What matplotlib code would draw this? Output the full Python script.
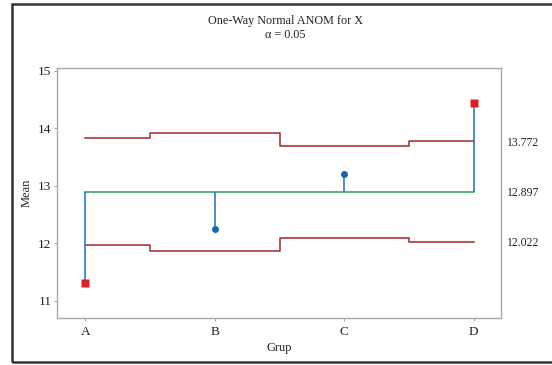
import matplotlib
matplotlib.use("Agg")
import matplotlib.pyplot as plt
from matplotlib.patches import Rectangle

plt.rcParams['font.family'] = ['Liberation Serif', 'DejaVu Serif']

groups = ['A', 'B', 'C', 'D']
means = [11.31, 12.25, 13.21, 14.44]
center = 12.897
upper = [13.83, 13.92, 13.70, 13.772]
lower = [11.964, 11.874, 12.094, 12.022]
limit_labels = ['13.772', '12.897', '12.022']
limit_values = [13.772, 12.897, 12.022]

fig = plt.figure(figsize=(5.52, 3.65), dpi=100)
ax = fig.add_axes([57/552, (365-318)/365, (501-57)/552, (318-68)/365])

x = list(range(1, len(groups) + 1))
lim_color = '#a8383c'
ax.step(x, upper, where='mid', color=lim_color, lw=1.2, zorder=2)
ax.step(x, lower, where='mid', color=lim_color, lw=1.2, zorder=2)
ax.plot([x[0], x[-1]], [center, center], color='#3aa862', lw=1.2, zorder=2)
ax.vlines(x, center, means, color='#2f7cc4', lw=1.2, zorder=3)
for xi, m, u, l in zip(x, means, upper, lower):
    if m > u or m < l:
        ax.plot(xi, m, marker='s', color='#dc1f26', ms=5.5, zorder=4, mec='none')
    else:
        ax.plot(xi, m, marker='o', color='#1a62ad', ms=5, zorder=4, mec='none')

ax.set_xlim(0.78, 4.21)
ax.set_ylim(10.70, 15.05)
ax.set_yticks([11, 12, 13, 14, 15])
ax.set_xticks(x)
ax.set_xticklabels(groups)
for s in ax.spines.values():
    s.set_color('#a8a8a8')
    s.set_linewidth(1.0)
ax.tick_params(axis='both', colors='#a8a8a8', labelcolor='#222222', labelsize=9.5, length=2.5, width=0.8)
ax.tick_params(axis='y', pad=1.5)
ax.tick_params(axis='x', pad=3)
ax.set_xlabel('Grup', fontsize=9, color='#222222')
ax.set_ylabel('Mean', fontsize=9, color='#222222')
ax.xaxis.set_label_coords(0.5, -(342 - 318) / 250)
ax.yaxis.set_label_coords((33 - 57) / 444, 0.5)

for lab, v in zip(limit_labels, limit_values):
    ax.annotate(lab, xy=(1, v), xycoords=('axes fraction', 'data'), xytext=(4, -1),
                textcoords='offset points', ha='left', va='center', fontsize=8.5, color='#222222')

fig.text(285/552, 1 - 21/365, 'One-Way Normal ANOM for X', ha='center', va='center', fontsize=8.7, color='#222222')
fig.text(285/552, 1 - 35/365, 'α = 0.05', ha='center', va='center', fontsize=8.7, color='#222222')

fig.patches.append(Rectangle((12/552, 3/365), 560/552, (362-4)/365, transform=fig.transFigure,
                             fill=False, edgecolor='#333333', lw=1.8))
fig.savefig('out.png', dpi=100)
